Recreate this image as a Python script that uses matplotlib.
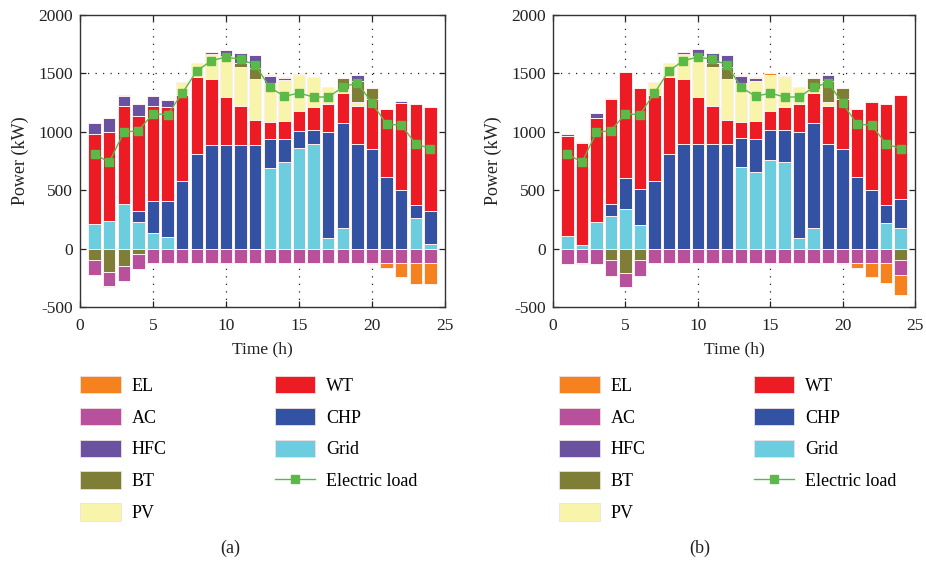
import matplotlib
matplotlib.use("Agg")
import matplotlib.pyplot as plt
import numpy as np
from matplotlib.patches import Patch
from matplotlib.lines import Line2D

hours = list(range(1, 25))
series_names = ["Grid", "CHP", "WT", "PV", "BT", "HFC", "AC", "EL"]
legend_order = ["EL", "AC", "HFC", "BT", "PV", "WT", "CHP", "Grid"]

# Electric load (kW)
load = [810, 739, 995, 1011, 1154, 1148, 1330, 1521, 1609, 1640, 1621, 1573, 1380, 1304,
        1331, 1298, 1298, 1381, 1420, 1246, 1065, 1058, 896, 856]

# ---- Case (a) ----
grid_a = [212, 238, 386, 229, 132, 103, 0, 0, 0, 0, 0, 0, 693, 739, 862, 896, 94, 177, 0, 0, 0, 0, 263, 43]
chp_a = [0, 0, 0, 97, 272, 306, 581, 813, 890, 890, 890, 890, 249, 200, 149, 117, 902, 902, 893, 856, 610, 501, 112, 281]
wt_a = [773, 761, 834, 805, 813, 802, 733, 653, 559, 404, 335, 212, 143, 155, 166, 201, 246, 255, 327, 427, 581, 747, 865, 887]
pv_a = [0, 0, 0, 0, 0, 0, 109, 123, 220, 355, 330, 347, 329, 346, 306, 258, 138, 34, 31, 0, 0, 0, 0, 0]
bt_a = [-94, -198, -146, -49, 0, 0, 0, 0, 0, 0, 31, 100, 0, 0, 0, 0, 0, 95, 186, 91, 0, 0, 0, 0]
hfc_a = [89, 115, 85, 103, 88, 63, 0, 0, 17, 54, 86, 106, 63, 20, 0, 0, 0, 0, 46, 0, 0, 12, 0, 0]
ac_a = [-135, -123, -132, -129, -126, -126, -126, -126, -126, -126, -126, -126, -126, -126, -126, -126, -126, -126, -126, -126, -126, -126, -126, -126]
el_a = [0, -11, 12, 0, 0, 0, 0, 0, 0, 0, 0, 0, 9, 12, 14, 0, 0, 0, 0, -9, -37, -114, -174, -174]

# ---- Case (b) ----
grid_b = [109, 31, 232, 278, 335, 198, 0, 0, 0, 0, 0, 0, 696, 656, 762, 744, 94, 175, 0, 0, 0, 0, 223, 180]
chp_b = [0, 0, 0, 103, 269, 309, 581, 813, 893, 893, 893, 893, 252, 283, 251, 275, 905, 904, 893, 853, 610, 501, 149, 241]
wt_b = [859, 871, 890, 896, 908, 864, 736, 656, 558, 404, 332, 209, 137, 155, 167, 195, 243, 255, 329, 430, 581, 750, 868, 890]
pv_b = [0, 0, 0, 0, 0, 0, 109, 120, 215, 352, 330, 347, 329, 343, 309, 260, 138, 29, 35, 0, 0, 0, 0, 0]
bt_b = [0, 0, 0, -100, -206, -100, 0, 0, 0, 0, 31, 103, 0, 0, 0, 0, 0, 100, 177, 94, 0, 0, 0, -100]
hfc_b = [11, 14, 40, 11, 0, 0, 0, 0, 17, 57, 92, 103, 60, 23, 0, 0, 0, 0, 49, 0, 0, 9, 0, 0]
ac_b = [-132, -123, -132, -135, -126, -135, -126, -126, -126, -126, -126, -126, -126, -126, -126, -126, -126, -126, -126, -126, -126, -126, -126, -123]
el_b = [0, -12, 0, 0, 0, 0, 0, 0, 0, 0, 0, 0, 9, 11, 14, 0, 0, 0, 0, -10, -37, -114, -171, -178]

colors = {
    "EL": "#F5821F", "AC": "#B8509B", "HFC": "#6A52A1", "BT": "#7E7E36",
    "PV": "#F8F5AA", "WT": "#ED1C24", "CHP": "#3452A3", "Grid": "#6CCDDF",
}
load_color = "#5BB947"

plt.rcParams['font.family'] = ['Liberation Serif', 'DejaVu Serif']
plt.rcParams['axes.unicode_minus'] = False

fig = plt.figure(figsize=(9.26, 5.64), dpi=100)
W, H = 926, 564


def draw_panel(ax, data):
    x = np.array(hours, dtype=float)
    pos = np.zeros(len(x))
    neg = np.zeros(len(x))
    for name in series_names:
        v = np.array(data[name], dtype=float)
        p = np.where(v > 0, v, 0)
        n = np.where(v < 0, v, 0)
        if p.any():
            ax.bar(x, p, bottom=pos, width=0.86, color=colors[name],
                   edgecolor="#fdf0f0", linewidth=0.7, zorder=2)
        if n.any():
            ax.bar(x, n, bottom=neg, width=0.86, color=colors[name],
                   edgecolor="#fdf0f0", linewidth=0.7, zorder=2)
        pos += p
        neg += n
    ax.plot(x, load, color=load_color, lw=1.0, marker="s", ms=6,
            mfc=load_color, mec=load_color, zorder=4)
    ax.set_xlim(0, 25)
    ax.set_ylim(-500, 2000)
    ax.set_xticks([0, 5, 10, 15, 20, 25])
    ax.set_yticks([-500, 0, 500, 1000, 1500, 2000])
    for xv in [5, 10, 15, 20]:
        ax.axvline(xv, color="#222222", lw=0.9, ls=(0, (1, 5)), zorder=0.5)
    ax.axhline(1500, color="#222222", lw=0.9, ls=(0, (1, 5)), zorder=0.5)
    ax.tick_params(direction="in", length=4, width=0.9, labelsize=12.5,
                   colors="#222222", top=True, right=True)
    ax.tick_params(axis="x", pad=8)
    ax.tick_params(axis="y", pad=5)
    for sp in ax.spines.values():
        sp.set_color("#333333")
        sp.set_linewidth(1.0)
    ax.set_xlabel("Time (h)", fontsize=12.5, labelpad=5, color="#222222")
    ax.set_ylabel("Power (kW)", fontsize=13, labelpad=7, color="#222222")


data_a = {"Grid": grid_a, "CHP": chp_a, "WT": wt_a, "PV": pv_a, "BT": bt_a,
          "HFC": hfc_a, "AC": ac_a, "EL": el_a}
data_b = {"Grid": grid_b, "CHP": chp_b, "WT": wt_b, "PV": pv_b, "BT": bt_b,
          "HFC": hfc_b, "AC": ac_b, "EL": el_b}

bottom = 1 - 307 / H
height = 292 / H
ax_a = fig.add_axes([80 / W, bottom, 365 / W, height])
ax_b = fig.add_axes([553 / W, bottom, 362 / W, height])
draw_panel(ax_a, data_a)
draw_panel(ax_b, data_b)

handles = [Patch(facecolor=colors[n], edgecolor="#f0e0e0", linewidth=0.6, label=n) for n in legend_order]
handles.append(Line2D([0], [0], color=load_color, lw=1.0, marker="s", ms=6,
                      mfc=load_color, mec=load_color, label="Electric load"))

for x0, lbl, xl in [(80, "(a)", 230), (559, "(b)", 700)]:
    fig.legend(handles=handles, ncol=2, loc="upper left",
               bbox_to_anchor=(x0 / W, 1 - 376 / H), frameon=False,
               fontsize=13, handlelength=2.25, handleheight=1.1,
               handletextpad=0.6, labelspacing=0.72, columnspacing=6.0,
               borderpad=0, borderaxespad=0)
    fig.text(xl / W, 1 - 548 / H, lbl, ha="center", va="center", fontsize=13, color="#222222")

fig.savefig("out.png", dpi=100)
